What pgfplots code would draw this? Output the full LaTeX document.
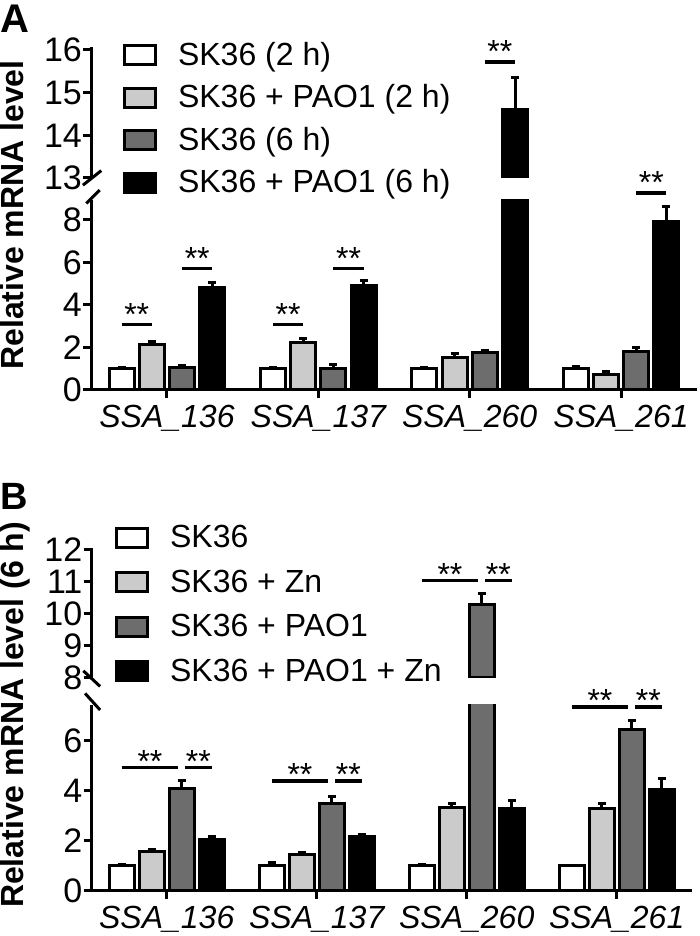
\documentclass[border=0pt]{standalone}
\usepackage{fontspec}
\setmainfont{Liberation Sans}
\usepackage{pgfplots}
\pgfplotsset{compat=1.18}
\usepackage{pgfplotstable}

\definecolor{lgray}{HTML}{CBCBCB}
\definecolor{dgray}{HTML}{6D6D6D}

% panel A: SK36 2 h, +PAO1 2 h, SK36 6 h, +PAO1 6 h (bar x, value, error)
\pgfplotstableread{
xa a ae xb b be xc c ce xd d de
-0.3 1.00 0.08 -0.1 2.15 0.12 0.1 1.05 0.12 0.3 4.83 0.23
0.7 1.00 0.08 0.9 2.22 0.18 1.1 1.02 0.18 1.3 4.92 0.23
1.7 1.00 0.08 1.9 1.52 0.18 2.1 1.75 0.13 2.3 14.60 0.75
2.7 1.00 0.12 2.9 0.72 0.15 3.1 1.80 0.18 3.3 7.95 0.70
}\dataA
% panel B: SK36, +Zn, +PAO1, +PAO1+Zn (6 h)
\pgfplotstableread{
xa a ae xb b be xc c ce xd d de
-0.3 1.00 0.06 -0.1 1.56 0.10 0.1 4.10 0.32 0.3 2.04 0.12
0.7 1.00 0.15 0.9 1.44 0.10 1.1 3.50 0.28 1.3 2.17 0.10
1.7 1.00 0.06 1.9 3.34 0.16 2.1 10.28 0.35 2.3 3.30 0.32
2.7 1.00 0.00 2.9 3.30 0.20 3.1 6.45 0.36 3.3 4.07 0.42
}\dataB

\newcommand{\fs}[1]{\fontsize{#1}{#1}\selectfont}

\pgfplotsset{
  base/.style={scale only axis, xmin=-0.5, xmax=3.5,
    axis y line*=left, y axis line style={-},
    axis line style={line width=1.5pt},
    tick align=outside, major tick length=4pt,
    tick style={line width=1.5pt, black},
    yticklabel style={font=\fs{17}, inner sep=0.5pt},
    /pgf/number format/assume math mode=true,
    clip mode=individual},
  low/.style={axis x line*=bottom, x axis line style={-},
    xtick={0,1,2,3},
    xticklabels={SSA\_136,SSA\_137,SSA\_260,SSA\_261},
    xticklabel style={font=\itshape\fs{16}}},
  up/.style={axis x line=none},
  mybar/.style={ybar, bar width=0.165, bar shift=0pt, draw=black, /tikz/line width=1.5pt,
    error bars/y dir=plus, error bars/y explicit,
    error bars/error bar style={/tikz/line width=1.5pt, black},
    error bars/error mark options={rotate=90, mark size=2pt, /tikz/line width=1.5pt, black},
    legend image code/.code={\draw[##1, /tikz/line width=1.5pt] (0.75pt,-5.5pt) rectangle (16.25pt,4pt);}},
  leg/.style={legend cell align=left,
    legend style={draw=none, fill=none, inner sep=0pt, outer sep=0pt,
      anchor=north west, row sep=#1, font=\fs{16},
      nodes={inner sep=0pt, text height=11.5pt, text depth=0pt},
      /tikz/every odd column/.append style={column sep=10.5pt}}},
}

% significance bar with stars
\newcommand{\sig}[4]{%
  \draw[line width=1.6pt] (axis cs:#1,#3) -- (axis cs:#2,#3);
  \node[anchor=base, inner sep=0pt, font=\fs{16}, yshift=#4]
    at (axis cs:{(#1+#2)/2},#3) {**};}

\newcommand{\allbars}[2][]{%
  \addplot[mybar, fill=white, #1] table[x=xa, y=a, y error=ae] {#2};
  \addplot[mybar, fill=lgray, #1] table[x=xb, y=b, y error=be] {#2};
  \addplot[mybar, fill=dgray, #1] table[x=xc, y=c, y error=ce] {#2};
  \addplot[mybar, fill=black, #1] table[x=xd, y=d, y error=de] {#2};}

\newcommand{\legimages}{%
  \addlegendimage{mybar, fill=white}
  \addlegendimage{mybar, fill=lgray}
  \addlegendimage{mybar, fill=dgray}
  \addlegendimage{mybar, fill=black}}

\begin{document}
\begin{tikzpicture}
\useasboundingbox (0pt,0pt) rectangle (350pt,468pt);

% ---------- A ----------
\begin{axis}[base, low, at={(45.65pt,273pt)}, width=302.7pt, height=95pt,
  ymin=0, ymax=8.94, ytick={0,2,4,6,8}]
  \allbars{\dataA}
  \sig{-0.3}{-0.1}{3.1}{-0.5pt}
  \sig{0.1}{0.3}{5.72}{-0.5pt}
  \sig{0.7}{0.9}{3.1}{-0.5pt}
  \sig{1.1}{1.3}{5.72}{-0.5pt}
  \sig{3.1}{3.3}{9.27}{-0.5pt}
  \draw[line width=1.5pt] (rel axis cs:0,1) ++(-2.5pt,-1.7pt) -- ++(6.7pt,6.7pt);
\end{axis}
\begin{axis}[base, up, leg=9.3pt, at={(45.65pt,379pt)}, width=302.7pt, height=65.5pt,
  ymin=13, ymax=16.07, ytick={13,14,15,16},
  legend style={at={(0.0524,1.038)}}]
  \legimages
  \legend{SK36 (2 h), SK36 + PAO1 (2 h), SK36 (6 h), SK36 + PAO1 (6 h)}
  \allbars[forget plot, restrict y to domain=13:100]{\dataA}
  \sig{2.1}{2.3}{15.72}{-0.5pt}
  \draw[line width=1.5pt] (rel axis cs:0,0) ++(-4.2pt,-3.6pt) -- ++(9.2pt,7.3pt);
\end{axis}

% ---------- B ----------
\begin{axis}[base, low, at={(45.85pt,22.5pt)}, width=300pt, height=93pt,
  ymin=0, ymax=7.44, ytick={0,2,4,6}]
  \allbars{\dataB}
  \sig{-0.3}{0.077}{4.93}{-2.2pt}
  \sig{0.123}{0.3}{4.93}{-2.2pt}
  \sig{0.7}{1.077}{4.4}{-2.2pt}
  \sig{1.123}{1.3}{4.4}{-2.2pt}
  \sig{2.7}{3.077}{7.36}{-2.2pt}
  \sig{3.123}{3.3}{7.36}{-2.2pt}
  \draw[line width=1.5pt] (rel axis cs:0,1) ++(-3.3pt,5.8pt) -- ++(7.5pt,-8.3pt);
\end{axis}
\begin{axis}[base, up, leg=10.2pt, at={(45.85pt,129pt)}, width=300pt, height=65pt,
  ymin=8, ymax=12.06, ytick={8,9,10,11,12},
  legend style={at={(0.039,1.177)}}]
  \legimages
  \legend{SK36, SK36 + Zn, SK36 + PAO1, SK36 + PAO1 + Zn}
  \allbars[forget plot, restrict y to domain=8:100]{\dataB}
  \sig{1.7}{2.077}{11.04}{-2.2pt}
  \sig{2.123}{2.3}{11.04}{-2.2pt}
  \draw[line width=1.5pt] (rel axis cs:0,0) ++(-4.2pt,3.6pt) -- ++(8.4pt,-7.8pt);
\end{axis}

% panel letters and y labels
\node[anchor=north west, inner sep=0pt, font=\bfseries\fs{20}] at (0pt,465.5pt) {A};
\node[anchor=north west, inner sep=0pt, font=\bfseries\fs{19}] at (0pt,226.5pt) {B};
\node[rotate=90, anchor=north, inner sep=0pt, font=\bfseries\fs{16}] at (0pt,360.5pt) {Relative mRNA level};
\node[rotate=90, anchor=north, inner sep=0pt, font=\bfseries\fs{16}] at (0pt,110.5pt) {Relative mRNA level (6 h)};
\end{tikzpicture}
\end{document}
